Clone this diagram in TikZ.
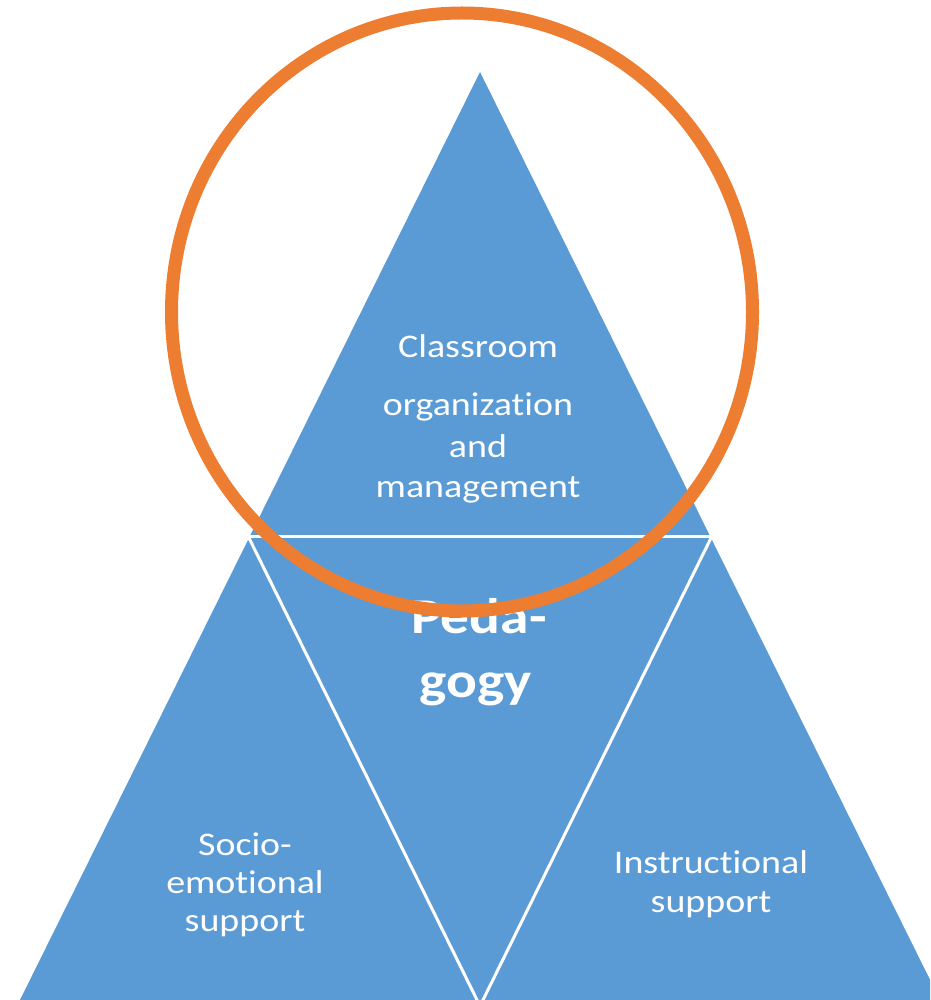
\documentclass[tikz,border=0pt]{standalone}
\usepackage{fontspec}
\newfontfamily\lab[FakeStretch=1.15,Ligatures={NoCommon,NoRare}]{Carlito}
\definecolor{tblue}{HTML}{5B9BD5}
\definecolor{torange}{HTML}{ED7D31}
\begin{document}
\begin{tikzpicture}[x=1pt,y=-1pt,
  divider/.style={draw=white,line width=3pt,line join=round,line cap=round},
  txt/.style={text=white,anchor=base,inner sep=0pt,font=\lab\fontsize{33}{40}\selectfont},
  big/.style={text=white,anchor=base,inner sep=0pt,font=\lab\bfseries\fontsize{50}{60}\selectfont},
  ring/.style={draw=torange,line width=13pt}]
\useasboundingbox (0,0) rectangle (930,1000);
\begin{scope}
\clip (0,0) rectangle (930,1000);
\coordinate (A) at (480,72);
\coordinate (BL) at (16,1000);
\coordinate (BR) at (944,1000);
\coordinate (L) at (248,536);
\coordinate (R) at (712,536);
\coordinate (B) at (480,1000);
\fill[tblue] (A) -- ([yshift=-8pt]BL) -- ([yshift=-8pt]BR) -- cycle;
\draw[divider] (L) -- (R);
\draw[divider] (L) -- ([yshift=-6pt]B) -- (R);
\end{scope}
\node[txt] (c1) at (478,357) {Classroom};
\node[txt] (c2) at (478,415) {organization};
\node[txt] (c3) at (478,457) {and};
\node[txt] (c4) at (478,497) {management};
\node[big] (p1) at (479,633) {Peda-};
\node[big] (p2) at (476,697) {gogy};
\node[txt] (s1) at (245,855) {Socio-};
\node[txt] (s2) at (245,893) {emotional};
\node[txt] (s3) at (245,931) {support};
\node[txt] (i1) at (711,873) {Instructional};
\node[txt] (i2) at (711,912) {support};
\draw[ring] (462,312) ellipse [x radius=290.5, y radius=299];
\end{tikzpicture}
\end{document}
